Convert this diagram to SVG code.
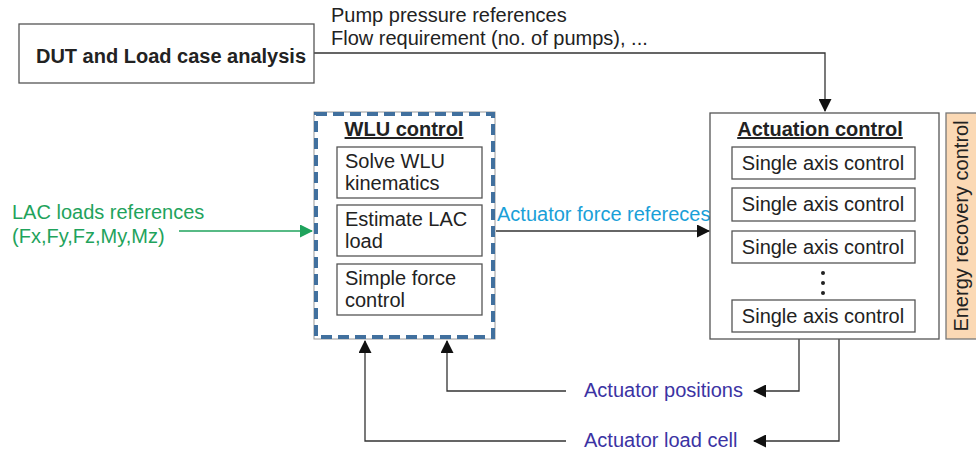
<svg xmlns="http://www.w3.org/2000/svg" width="976" height="450" viewBox="0 0 976 450">
<defs>
<style>
text{font-family:"Liberation Sans",Arial,sans-serif;font-size:20px;fill:#222}
.b{font-weight:bold}
.u{text-decoration:underline}
.box{fill:#fff;stroke:#555;stroke-width:1.3}
.ln{fill:none;stroke:#333;stroke-width:1.3}
.fan{fill:none;stroke:#444;stroke-width:1}
.green{fill:#1fa35c}
.blue{fill:#1aa0d8}
.purple{fill:#3b33a3}
</style>
<marker id="ah" markerWidth="13" markerHeight="13" refX="12" refY="6.5" orient="auto" markerUnits="userSpaceOnUse" viewBox="0 0 13 13">
<path d="M0,0 L13,6.5 L0,13 z" fill="#111"/>
</marker>
<marker id="ag" markerWidth="13" markerHeight="13" refX="12" refY="6.5" orient="auto" markerUnits="userSpaceOnUse" viewBox="0 0 13 13">
<path d="M0,0 L13,6.5 L0,13 z" fill="#1fa35c"/>
</marker>
</defs>
<rect width="976" height="450" fill="#fff"/>

<g id="connectors">
<path class="ln" d="M314,53 H825 V111" marker-end="url(#ah)"/>
<path d="M179,231 H312" fill="none" stroke="#1fa35c" stroke-width="1.5" marker-end="url(#ag)"/>
<path class="ln" d="M496,231 H709" marker-end="url(#ah)"/>
<path class="fan" d="M710,231 L732,163 M710,231 L732,206 M710,231 L732,247 M710,231 L732,310"/>
<path class="ln" d="M799,339 V391 H754" marker-end="url(#ah)"/>
<path class="ln" d="M839,339 V441 H754" marker-end="url(#ah)"/>
<path class="ln" d="M566,391 H447 V341" marker-end="url(#ah)"/>
<path class="ln" d="M566,441 H365 V341" marker-end="url(#ah)"/>
</g>

<g id="labels">
<text x="331" y="22">Pump pressure references</text>
<text x="331" y="45">Flow requirement (no. of pumps), ...</text>
<text class="green" x="12" y="219">LAC loads references</text>
<text class="green" x="12" y="243">(Fx,Fy,Fz,My,Mz)</text>
<text class="blue" x="497" y="221">Actuator force refereces</text>
<text class="purple" x="584" y="397">Actuator positions</text>
<text class="purple" x="584" y="447">Actuator load cell</text>
</g>

<g id="dut">
<rect class="box" x="19" y="24" width="295" height="59"/>
<text class="b" x="171" y="63" text-anchor="middle">DUT and Load case analysis</text>
</g>

<g id="wlu">
<rect x="314" y="112" width="181" height="227" fill="#fff" stroke="#999" stroke-width="1"/>
<rect x="316" y="114" width="177" height="223" fill="none" stroke="#41709e" stroke-width="4" stroke-dasharray="11,6"/>
<text class="b u" x="404" y="136" text-anchor="middle">WLU control</text>
<g id="wlu1"><rect class="box" x="337" y="147" width="145" height="51"/><text x="345" y="168">Solve WLU</text><text x="345" y="190">kinematics</text></g>
<g id="wlu2"><rect class="box" x="337" y="205" width="145" height="51"/><text x="345" y="226">Estimate LAC</text><text x="345" y="248">load</text></g>
<g id="wlu3"><rect class="box" x="337" y="264" width="145" height="51"/><text x="345" y="285">Simple force</text><text x="345" y="307">control</text></g>
</g>

<g id="actuation">
<rect class="box" x="710" y="113" width="229" height="226"/>
<text class="b u" x="820" y="136" text-anchor="middle">Actuation control</text>
<g id="sa1"><rect class="box" x="732" y="147" width="183" height="32"/><text x="823" y="170" text-anchor="middle">Single axis control</text></g>
<g id="sa2"><rect class="box" x="732" y="188" width="183" height="33"/><text x="823" y="211" text-anchor="middle">Single axis control</text></g>
<g id="sa3"><rect class="box" x="732" y="231" width="183" height="32"/><text x="823" y="254" text-anchor="middle">Single axis control</text></g>
<circle cx="823" cy="273" r="2" fill="#222"/>
<circle cx="823" cy="283" r="2" fill="#222"/>
<circle cx="823" cy="293" r="2" fill="#222"/>
<g id="sa4"><rect class="box" x="732" y="300" width="183" height="32"/><text x="823" y="323" text-anchor="middle">Single axis control</text></g>
</g>

<g id="energy">
<rect x="946" y="113" width="32" height="226" fill="#fbd9b5" stroke="#777" stroke-width="1.3"/>
<text x="0" y="0" transform="translate(968,226) rotate(-90)" text-anchor="middle">Energy recovery control</text>
</g>
</svg>
